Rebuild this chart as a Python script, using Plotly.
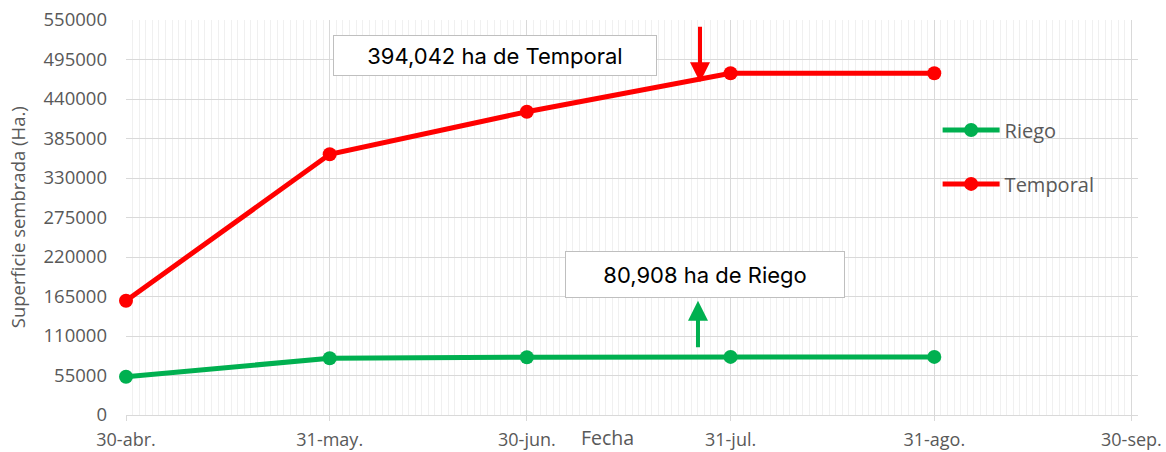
import plotly.graph_objects as go

fechas = ["2019-04-30", "2019-05-31", "2019-06-30", "2019-07-31", "2019-08-31"]
riego = [53300, 79000, 80500, 80908, 80908]
temporal = [159000, 363000, 422300, 475800, 475800]

tick_vals = ["2019-04-30", "2019-05-31", "2019-06-30", "2019-07-31", "2019-08-31", "2019-09-30"]
tick_text = ["30-abr.", "31-may.", "30-jun.", "31-jul.", "31-ago.", "30-sep."]

GRAY_TXT = "#595959"
GRID = "#d9d9d9"
FONT = "Open Sans"

fig = go.Figure()
fig.add_trace(go.Scatter(
    x=fechas, y=riego, name="Riego", mode="lines+markers", cliponaxis=False,
    line=dict(color="#00b050", width=5), marker=dict(size=14, color="#00b050"),
    legend="legend", showlegend=True))
fig.add_trace(go.Scatter(
    x=fechas, y=temporal, name="Temporal", mode="lines+markers", cliponaxis=False,
    line=dict(color="#ff0000", width=5), marker=dict(size=14, color="#ff0000"),
    legend="legend2", showlegend=True))

legend_common = dict(font=dict(family=FONT, size=20, color=GRAY_TXT),
                     bgcolor="rgba(0,0,0,0)", itemwidth=57,
                     xanchor="left", yanchor="middle", visible=True)

fig.update_layout(
    width=1166, height=452,
    margin=dict(l=126, r=28, t=20, b=37, autoexpand=False),
    showlegend=True,
    plot_bgcolor="white", paper_bgcolor="white",
    font=dict(family=FONT, size=18, color=GRAY_TXT),
    legend=dict(x=0.802, y=0.7215, **legend_common),
    legend2=dict(x=0.802, y=0.585, **legend_common),
    xaxis=dict(
        type="date", range=["2019-04-30", "2019-10-01"],
        tickmode="array", tickvals=tick_vals, ticktext=tick_text,
        showgrid=True, gridcolor=GRID, gridwidth=1,
        ticks="outside", ticklen=5, tickcolor=GRID,
        ticklabelstandoff=3, automargin=False,
        showline=True, linecolor=GRID, linewidth=1,
        tickfont=dict(family=FONT, size=18, color=GRAY_TXT),
        minor=dict(tickmode="linear", tick0="2019-04-30", dtick=86400000,
                   showgrid=True, gridcolor="#f0f0f0", gridwidth=1),
        zeroline=False,
    ),
    yaxis=dict(
        range=[0, 550000], tickmode="linear", tick0=0, dtick=55000,
        tickformat="d", showgrid=True, gridcolor=GRID, gridwidth=1,
        zeroline=True, zerolinecolor=GRID, zerolinewidth=1,
        ticklabelstandoff=18, automargin=False,
        tickfont=dict(family=FONT, size=18.5, color=GRAY_TXT),
    ),
    annotations=[
        dict(text="Superficie sembrada (Ha.)", xref="paper", yref="paper",
             x=-0.107, y=0.5, textangle=-90, showarrow=False,
             xanchor="center", yanchor="middle",
             font=dict(family=FONT, size=18.5, color=GRAY_TXT)),
        dict(text="Fecha", xref="paper", yref="paper", x=0.476, y=-0.058,
             showarrow=False, xanchor="center", yanchor="middle",
             font=dict(family=FONT, size=19.5, color=GRAY_TXT)),
        dict(text="394,042 ha de Temporal", xref="paper", yref="paper",
             x=0.3646, y=0.910, showarrow=False, xanchor="center", yanchor="middle",
             width=316, height=33, borderpad=3, borderwidth=1,
             bordercolor="#bfbfbf", bgcolor="white",
             font=dict(family="Inter", size=22, color="black")),
        dict(text="80,908 ha de Riego", xref="paper", yref="paper",
             x=0.5721, y=0.3566, showarrow=False, xanchor="center", yanchor="middle",
             width=272, height=39, borderpad=3, borderwidth=1,
             bordercolor="#bfbfbf", bgcolor="white",
             font=dict(family="Inter", size=22, color="black")),
        dict(text="", xref="paper", yref="paper", x=0.5672, y=0.8426,
             showarrow=True, axref="pixel", ayref="pixel", ax=0, ay=-57,
             arrowhead=2, arrowsize=1, arrowwidth=4, arrowcolor="#ff0000"),
        dict(text="", xref="paper", yref="paper", x=0.5652, y=0.2893,
             showarrow=True, axref="pixel", ayref="pixel", ax=0, ay=48,
             arrowhead=2, arrowsize=1, arrowwidth=4, arrowcolor="#00b050"),
    ],
)

fig.write_html("out.html", config={"displayModeBar": False},
               post_script="document.body.style.margin='0';document.body.style.overflow='hidden';")
